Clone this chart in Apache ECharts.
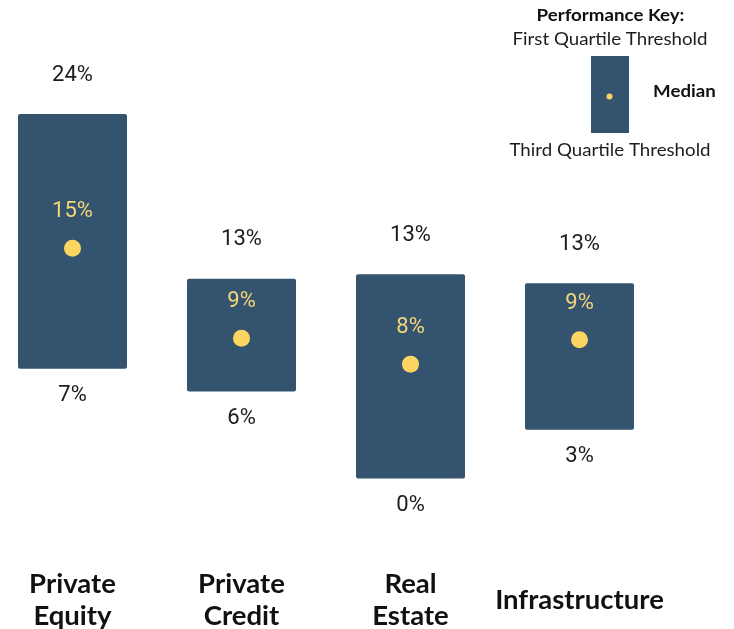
<!DOCTYPE html>
<html>
<head>
<meta charset="utf-8">
<script src="https://cdn.jsdelivr.net/npm/echarts@6/dist/echarts.min.js"></script>
<style>
html,body{margin:0;padding:0;background:#fff;}
#chart{width:734px;height:629px;}
</style>
</head>
<body>
<div id="chart"></div>
<script>
// ---- data ----
var categories = ['Private\nEquity', 'Private\nCredit', 'Real\nEstate', 'Infrastructure'];
var firstQuartile = [23.9, 13.1, 13.4, 12.8];   // top of box
var medianValues  = [15.1, 9.2, 7.5, 9.1];      // dot
var thirdQuartile = [7.2, 5.7, 0, 3.2];         // bottom of box

var keyTitle = 'Performance Key:';
var keyTop = 'First Quartile Threshold';
var keyMid = 'Median';
var keyBottom = 'Third Quartile Threshold';

function pct(v) { return Math.round(v) + '%'; }

var BOX = '#34536f';
var DOT = '#fcd560';
var MEDTXT = '#f2d77a';
var TXT = '#1c1c1c';
var PCT_FONT = '22px Roboto';

var seriesData = categories.map(function (c, i) {
  return [i, firstQuartile[i], medianValues[i], thirdQuartile[i]];
});

var chart = echarts.init(document.getElementById('chart'));
chart.setOption({
  animation: false,
  backgroundColor: '#ffffff',
  grid: { left: 72.5, right: 154.5, top: 51.5, bottom: 120, containLabel: false, outerBoundsMode: 'none' },
  xAxis: {
    type: 'category',
    data: categories,
    boundaryGap: false,
    axisLine: { show: false },
    axisTick: { show: false },
    splitLine: { show: false },
    axisLabel: {
      interval: 0,
      margin: 91,
      verticalAlign: 'middle',
      fontFamily: 'Lato',
      fontWeight: 'bold',
      fontSize: 27.5,
      lineHeight: 32,
      color: '#111111'
    }
  },
  yAxis: {
    type: 'value',
    min: -2,
    max: 28,
    show: false,
    splitLine: { show: false }
  },
  series: [{
    type: 'custom',
    data: seriesData,
    encode: { x: 0, y: [1, 2, 3] },
    renderItem: function (params, api) {
      var i = api.value(0);
      var top = api.coord([i, api.value(1)]);
      var med = api.coord([i, api.value(2)]);
      var bot = api.coord([i, api.value(3)]);
      var w = 109;
      return {
        type: 'group',
        children: [
          { type: 'rect', shape: { x: top[0] - w / 2, y: top[1], width: w, height: bot[1] - top[1], r: 2 },
            style: { fill: BOX } },
          { type: 'circle', shape: { cx: med[0], cy: med[1], r: 8.5 }, style: { fill: DOT } },
          { type: 'text', style: { x: top[0], y: top[1] - 39, text: pct(api.value(1)), font: PCT_FONT, fill: TXT, align: 'center', verticalAlign: 'middle' } },
          { type: 'text', style: { x: med[0], y: med[1] - 36.5, text: pct(api.value(2)), font: PCT_FONT, fill: MEDTXT, align: 'center', verticalAlign: 'middle' } },
          { type: 'text', style: { x: bot[0], y: bot[1] + 27, text: pct(api.value(3)), font: PCT_FONT, fill: TXT, align: 'center', verticalAlign: 'middle' } }
        ]
      };
    }
  }],
  graphic: [
    { type: 'text', x: 610.5, y: 16, scaleX: 1.1, style: { text: keyTitle, font: 'bold 17px Lato', fill: '#111', align: 'center', verticalAlign: 'middle' } },
    { type: 'text', x: 610, y: 39.5, scaleX: 1.1, style: { text: keyTop, font: '17px Lato', fill: '#1c1c1c', align: 'center', verticalAlign: 'middle' } },
    { type: 'rect', shape: { x: 591, y: 56, width: 38, height: 77 }, style: { fill: BOX } },
    { type: 'circle', shape: { cx: 609.5, cy: 96.5, r: 3 }, style: { fill: DOT } },
    { type: 'text', x: 684.5, y: 92, scaleX: 1.1, style: { text: keyMid, font: 'bold 17px Lato', fill: '#111', align: 'center', verticalAlign: 'middle' } },
    { type: 'text', x: 610, y: 151, scaleX: 1.1, style: { text: keyBottom, font: '17px Lato', fill: '#1c1c1c', align: 'center', verticalAlign: 'middle' } }
  ]
});
</script>
</body>
</html>
